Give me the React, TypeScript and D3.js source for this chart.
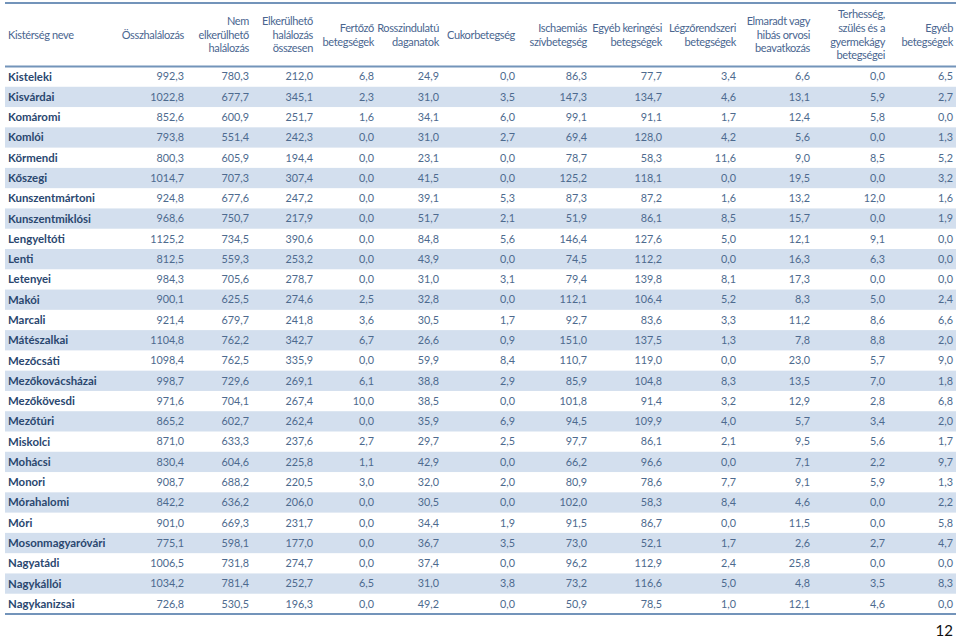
import React from "react";
import * as d3 from "d3";

const headers: string[][] = [
  ["Kistérség neve"],
  ["Összhalálozás"],
  ["Nem", "elkerülhető", "halálozás"],
  ["Elkerülhető", "halálozás", "összesen"],
  ["Fertőző", "betegségek"],
  ["Rosszindulatú", "daganatok"],
  ["Cukorbetegség"],
  ["Ischaemiás", "szívbetegség"],
  ["Egyéb keringési", "betegségek"],
  ["Légzőrendszeri", "betegségek"],
  ["Elmaradt vagy", "hibás orvosi", "beavatkozás"],
  ["Terhesség,", "szülés és a", "gyermekágy", "betegségei"],
  ["Egyéb", "betegségek"],
];

const regions: string[] = [
  "Kisteleki", "Kisvárdai", "Komáromi", "Komlói", "Körmendi", "Kőszegi", "Kunszentmártoni",
  "Kunszentmiklósi", "Lengyeltóti", "Lenti", "Letenyei", "Makói", "Marcali", "Mátészalkai",
  "Mezőcsáti", "Mezőkovácsházai", "Mezőkövesdi", "Mezőtúri", "Miskolci", "Mohácsi", "Monori",
  "Mórahalomi", "Móri", "Mosonmagyaróvári", "Nagyatádi", "Nagykállói", "Nagykanizsai",
];

const osszhalalozas = [992.3, 1022.8, 852.6, 793.8, 800.3, 1014.7, 924.8, 968.6, 1125.2, 812.5, 984.3, 900.1, 921.4, 1104.8, 1098.4, 998.7, 971.6, 865.2, 871.0, 830.4, 908.7, 842.2, 901.0, 775.1, 1006.5, 1034.2, 726.8];
const nemElkerulheto = [780.3, 677.7, 600.9, 551.4, 605.9, 707.3, 677.6, 750.7, 734.5, 559.3, 705.6, 625.5, 679.7, 762.2, 762.5, 729.6, 704.1, 602.7, 633.3, 604.6, 688.2, 636.2, 669.3, 598.1, 731.8, 781.4, 530.5];
const elkerulheto = [212.0, 345.1, 251.7, 242.3, 194.4, 307.4, 247.2, 217.9, 390.6, 253.2, 278.7, 274.6, 241.8, 342.7, 335.9, 269.1, 267.4, 262.4, 237.6, 225.8, 220.5, 206.0, 231.7, 177.0, 274.7, 252.7, 196.3];
const fertozo = [6.8, 2.3, 1.6, 0.0, 0.0, 0.0, 0.0, 0.0, 0.0, 0.0, 0.0, 2.5, 3.6, 6.7, 0.0, 6.1, 10.0, 0.0, 2.7, 1.1, 3.0, 0.0, 0.0, 0.0, 0.0, 6.5, 0.0];
const rosszindulatu = [24.9, 31.0, 34.1, 31.0, 23.1, 41.5, 39.1, 51.7, 84.8, 43.9, 31.0, 32.8, 30.5, 26.6, 59.9, 38.8, 38.5, 35.9, 29.7, 42.9, 32.0, 30.5, 34.4, 36.7, 37.4, 31.0, 49.2];
const cukor = [0.0, 3.5, 6.0, 2.7, 0.0, 0.0, 5.3, 2.1, 5.6, 0.0, 3.1, 0.0, 1.7, 0.9, 8.4, 2.9, 0.0, 6.9, 2.5, 0.0, 2.0, 0.0, 1.9, 3.5, 0.0, 3.8, 0.0];
const ischaemias = [86.3, 147.3, 99.1, 69.4, 78.7, 125.2, 87.3, 51.9, 146.4, 74.5, 79.4, 112.1, 92.7, 151.0, 110.7, 85.9, 101.8, 94.5, 97.7, 66.2, 80.9, 102.0, 91.5, 73.0, 96.2, 73.2, 50.9];
const egyebKeringesi = [77.7, 134.7, 91.1, 128.0, 58.3, 118.1, 87.2, 86.1, 127.6, 112.2, 139.8, 106.4, 83.6, 137.5, 119.0, 104.8, 91.4, 109.9, 86.1, 96.6, 78.6, 58.3, 86.7, 52.1, 112.9, 116.6, 78.5];
const legzo = [3.4, 4.6, 1.7, 4.2, 11.6, 0.0, 1.6, 8.5, 5.0, 0.0, 8.1, 5.2, 3.3, 1.3, 0.0, 8.3, 3.2, 4.0, 2.1, 0.0, 7.7, 8.4, 0.0, 1.7, 2.4, 5.0, 1.0];
const elmaradt = [6.6, 13.1, 12.4, 5.6, 9.0, 19.5, 13.2, 15.7, 12.1, 16.3, 17.3, 8.3, 11.2, 7.8, 23.0, 13.5, 12.9, 5.7, 9.5, 7.1, 9.1, 4.6, 11.5, 2.6, 25.8, 4.8, 12.1];
const terhesseg = [0.0, 5.9, 5.8, 0.0, 8.5, 0.0, 12.0, 0.0, 9.1, 6.3, 0.0, 5.0, 8.6, 8.8, 5.7, 7.0, 2.8, 3.4, 5.6, 2.2, 5.9, 0.0, 0.0, 2.7, 0.0, 3.5, 4.6];
const egyeb = [6.5, 2.7, 0.0, 1.3, 5.2, 3.2, 1.6, 1.9, 0.0, 0.0, 0.0, 2.4, 6.6, 2.0, 9.0, 1.8, 6.8, 2.0, 1.7, 9.7, 1.3, 2.2, 5.8, 4.7, 0.0, 8.3, 0.0];

const seriesCols: number[][] = [
  osszhalalozas, nemElkerulheto, elkerulheto, fertozo, rosszindulatu, cukor,
  ischaemias, egyebKeringesi, legzo, elmaradt, terhesseg, egyeb,
];

const pageNumber = "12";

// right edges of numeric columns
const colRight = [184, 249, 313, 374, 439, 515, 587, 662, 736, 810, 885, 953];

const fmt = (v: number) => d3.format(".1f")(v).replace(".", ",");

export default function App() {
  const W = 960, H = 641;
  const left = 5, right = 956;
  const topLine = 3, headLine = 66.5, bottom = 614;
  const y = d3.scaleBand<number>().domain(d3.range(regions.length)).range([headLine, bottom]).padding(0);
  const font = "Lato, 'Open Sans', sans-serif";
  const headerCenter = 35;
  const lh = 13.6;
  return (
    <svg width={W} height={H} style={{ position: "absolute", left: 0, top: 0, background: "#fff" }} fontFamily={font}>
      <rect x={0} y={0} width={W} height={H} fill="#fff" />
      {regions.map((r, i) =>
        i % 2 === 1 ? (
          <rect key={"b" + i} x={left} y={y(i)!} width={right - left} height={y.bandwidth()} fill="#d3dfee" />
        ) : null
      )}
      <line x1={left} x2={right} y1={topLine} y2={topLine} stroke="#7394ba" strokeWidth={2} />
      <line x1={left} x2={right} y1={headLine} y2={headLine} stroke="#7394ba" strokeWidth={2} />
      <line x1={left} x2={right} y1={bottom} y2={bottom} stroke="#7394ba" strokeWidth={2} />
      {headers.map((lines, c) => {
        const x = c === 0 ? 8 : colRight[c - 1];
        const anchor = c === 0 ? "start" : "end";
        const y0 = headerCenter - ((lines.length - 1) * lh) / 2;
        return (
          <text key={"h" + c} x={x} textAnchor={anchor} fontSize={11} letterSpacing={-0.35} fill="#4a6690">
            {lines.map((l, k) => (
              <tspan key={k} x={x} y={y0 + k * lh} dy="0.35em">{l}</tspan>
            ))}
          </text>
        );
      })}
      {regions.map((r, i) => {
        const cy = y(i)! + y.bandwidth() / 2;
        return (
          <g key={"r" + i}>
            <text x={8} y={cy} dy="0.35em" fontSize={11.4} fontWeight={700} fill="#2a476f">{r}</text>
            {seriesCols.map((col, c) => (
              <text key={c} x={colRight[c]} y={cy} dy="0.35em" textAnchor="end" fontSize={10.8} fill="#4d6a8e">
                {fmt(col[i])}
              </text>
            ))}
          </g>
        );
      })}
      <text x={953} y={636} textAnchor="end" fontSize={15} fill="#111">{pageNumber}</text>
    </svg>
  );
}
